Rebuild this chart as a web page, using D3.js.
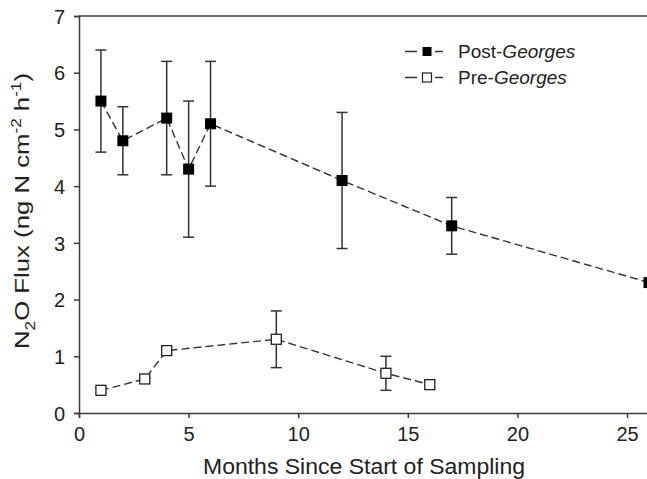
<!DOCTYPE html>
<html><head><meta charset="utf-8">
<script src="https://cdn.jsdelivr.net/npm/d3@7"></script>
<style>body{margin:0;background:#fff}svg{display:block}text{font-family:"Liberation Sans",Arial,sans-serif;fill:#222}</style>
</head><body><svg id="c" width="647" height="479"></svg>
<script>
const postMonths = [1, 2, 4, 5, 6, 12, 17, 26];
const postFlux   = [5.5, 4.8, 5.2, 4.3, 5.1, 4.1, 3.3, 2.3];
const postErr    = [0.9, 0.6, 1.0, 1.2, 1.1, 1.2, 0.5, 0];
const preMonths  = [1, 3, 4, 9, 14, 16];
const preFlux    = [0.4, 0.6, 1.1, 1.3, 0.7, 0.5];
const preErr     = [0.04, 0.03, 0.08, 0.5, 0.3, 0.07];
const xTicks = [0, 5, 10, 15, 20, 25];
const yTicks = [0, 1, 2, 3, 4, 5, 6, 7];

const svg = d3.select("#c");
const x = d3.scaleLinear().domain([0, 26]).range([79, 649]);
const y = d3.scaleLinear().domain([0, 7]).range([413, 16]);
const axisColor = "#3a3a3a";

svg.append("line").attr("x1", x(0)).attr("x2", x(26)).attr("y1", y(7)).attr("y2", y(7))
  .attr("stroke", axisColor).attr("stroke-width", 1.5);
svg.append("line").attr("x1", x(26)).attr("x2", x(26)).attr("y1", y(7)).attr("y2", y(0))
  .attr("stroke", axisColor).attr("stroke-width", 1.5);

const xa = svg.append("g").attr("transform", `translate(0,${y(0)})`)
  .call(d3.axisBottom(x).tickValues(xTicks).tickSize(5).tickPadding(9).tickFormat(d3.format("d")));
const ya = svg.append("g").attr("transform", `translate(${x(0)},0)`)
  .call(d3.axisLeft(y).tickValues(yTicks).tickSize(5).tickPadding(9).tickFormat(d3.format("d")));
[xa, ya].forEach(a => {
  a.select(".domain").attr("stroke", axisColor).attr("stroke-width", 1.5);
  a.selectAll(".tick line").attr("stroke", axisColor).attr("stroke-width", 1.5);
  a.selectAll("text").attr("font-size", 20).attr("fill", "#222").style("font-family", '"Liberation Sans",Arial,sans-serif');
});
ya.selectAll(".tick text").attr("dy", "0.36em");

function series(months, flux, err, filled) {
  const g = svg.append("g");
  const pts = months.map((m, i) => ({m, v: flux[i], e: err[i]}));
  g.append("path").datum(pts)
    .attr("d", d3.line().x(d => x(d.m)).y(d => y(d.v)))
    .attr("fill", "none").attr("stroke", "#333").attr("stroke-width", 1.4).attr("stroke-dasharray", "8,4");
  const eb = g.selectAll(".eb").data(pts.filter(d => d.e > 0)).enter().append("g");
  eb.append("line").attr("x1", d => x(d.m)).attr("x2", d => x(d.m))
    .attr("y1", d => y(d.v - d.e)).attr("y2", d => y(d.v + d.e)).attr("stroke", "#333").attr("stroke-width", 1.5);
  [1, -1].forEach(s => eb.append("line").attr("x1", d => x(d.m) - 5.5).attr("x2", d => x(d.m) + 5.5)
    .attr("y1", d => y(d.v + s * d.e)).attr("y2", d => y(d.v + s * d.e)).attr("stroke", "#333").attr("stroke-width", 1.5));
  const sz = filled ? 11 : 10;
  g.selectAll("rect").data(pts).enter().append("rect")
    .attr("x", d => x(d.m) - sz / 2).attr("y", d => y(d.v) - sz / 2).attr("width", sz).attr("height", sz)
    .attr("fill", filled ? "#000" : "#fff").attr("stroke", filled ? "#000" : "#222").attr("stroke-width", filled ? 0 : 1.3);
}
series(preMonths, preFlux, preErr, false);
series(postMonths, postFlux, postErr, true);

// legend
const leg = [{t: "Post-", filled: true, yy: 51.5}, {t: "Pre-", filled: false, yy: 77.5}];
leg.forEach(l => {
  const g = svg.append("g");
  g.append("line").attr("x1", 405).attr("x2", 443).attr("y1", l.yy).attr("y2", l.yy)
    .attr("stroke", "#333").attr("stroke-width", 1.4).attr("stroke-dasharray", "12,18");
  g.append("rect").attr("x", 422.5).attr("y", l.yy - 4.5).attr("width", 9).attr("height", 9)
    .attr("fill", l.filled ? "#000" : "#fff").attr("stroke", l.filled ? "none" : "#222").attr("stroke-width", 1.2);
  const t = g.append("text").attr("x", 458).attr("y", l.yy + 6.5).attr("font-size", 19);
  t.append("tspan").text(l.t);
  t.append("tspan").attr("font-style", "italic").text("Georges");
});

// axis titles
svg.append("text").attr("x", 364).attr("y", 474).attr("text-anchor", "middle").attr("font-size", 22)
  .attr("textLength", 322).attr("lengthAdjust", "spacingAndGlyphs")
  .text("Months Since Start of Sampling");
const yt = svg.append("text").attr("transform", `translate(29,211) rotate(-90)`)
  .attr("text-anchor", "middle").attr("font-size", 21)
  .attr("textLength", 276).attr("lengthAdjust", "spacingAndGlyphs");
yt.append("tspan").text("N");
yt.append("tspan").attr("font-size", 14).attr("dy", 6).text("2");
yt.append("tspan").attr("dy", -6).text("O Flux (ng N cm");
yt.append("tspan").attr("font-size", 14).attr("dy", -8).text("-2");
yt.append("tspan").attr("dy", 8).text(" h");
yt.append("tspan").attr("font-size", 14).attr("dy", -8).text("-1");
yt.append("tspan").attr("dy", 8).text(")");
</script></body></html>
